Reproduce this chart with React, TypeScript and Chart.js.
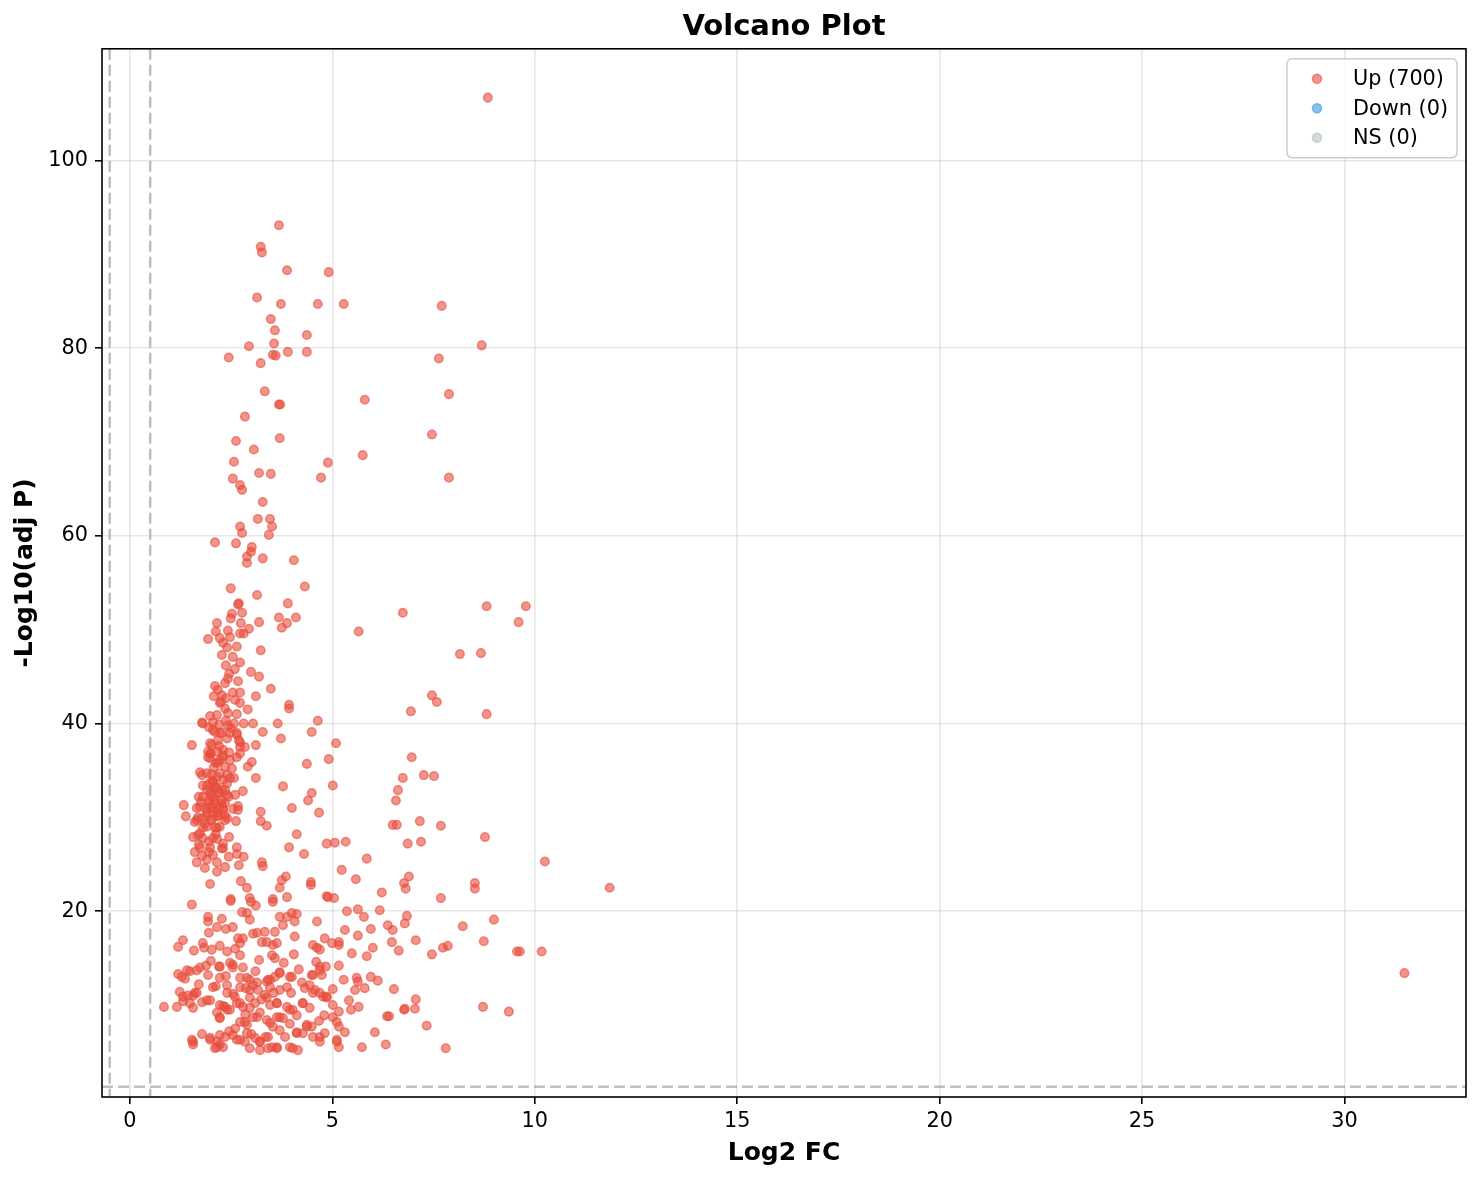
import { useEffect, useRef } from 'react';
import { Chart, registerables } from 'chart.js';

Chart.register(...registerables);

const FONT = "'DejaVu Sans', 'Liberation Sans', sans-serif";

const X_TICKS = [0, 5, 10, 15, 20, 25, 30];
const Y_TICKS = [20, 40, 60, 80, 100];
const X_LIMITS = [-0.69, 33.0];
const Y_LIMITS = [0.2, 111.9];

// thresholds: |log2FC| = 0.5 and adj P = 0.05
const FC_CUT = 0.5;
const P_CUT = 1.3;

const GROUP_LABELS = ['Up (700)', 'Down (0)', 'NS (0)'];
const GROUP_RGB = ['231,76,60', '52,152,219', '149,165,166'];
const GROUP_ALPHA = [0.6, 0.6, 0.4];

// [log2 FC, -log10(adj P)]
const UP_POINTS: [number, number][] = [
  [8.84, 106.7], [3.68, 93.1], [3.23, 90.8], [3.26, 90.2], [3.88, 88.3], [4.91, 88.1],
  [3.14, 85.4], [3.73, 84.7], [4.64, 84.7], [5.28, 84.7], [7.70, 84.5], [3.48, 83.1],
  [3.58, 81.9], [4.37, 81.4], [3.56, 80.5], [8.69, 80.3], [2.94, 80.2], [3.90, 79.6],
  [4.37, 79.6], [3.53, 79.3], [3.60, 79.2], [2.44, 79.0], [7.63, 78.9], [3.23, 78.4],
  [3.33, 75.4], [7.88, 75.1], [5.80, 74.5], [3.68, 74.0], [3.71, 74.0], [2.84, 72.7],
  [7.46, 70.8], [3.70, 70.4], [2.62, 70.1], [3.06, 69.2], [5.75, 68.6], [4.89, 67.8],
  [2.57, 67.9], [3.19, 66.7], [3.48, 66.6], [2.54, 66.1], [4.72, 66.2], [7.88, 66.2],
  [2.72, 65.4], [2.77, 64.9], [3.28, 63.6], [3.16, 61.8], [3.46, 61.8], [3.51, 61.0],
  [2.72, 61.0], [2.77, 60.3], [3.43, 60.1], [2.10, 59.3], [2.62, 59.2], [3.01, 58.8],
  [2.99, 58.3], [2.89, 57.8], [3.28, 57.6], [4.05, 57.4], [2.89, 57.1], [2.49, 54.4],
  [4.32, 54.6], [3.14, 53.7], [2.67, 52.7], [2.69, 52.8], [3.90, 52.8], [2.52, 51.7],
  [2.77, 51.8], [3.68, 51.3], [4.10, 51.3], [6.74, 51.8], [8.81, 52.5], [9.78, 52.5],
  [9.60, 50.8], [2.15, 50.7], [2.49, 51.2], [3.19, 50.8], [3.88, 50.7], [3.75, 50.2],
  [2.74, 50.7], [2.12, 49.8], [2.42, 49.9], [2.94, 50.1], [5.65, 49.8], [1.93, 49.0],
  [2.22, 49.1], [2.47, 49.2], [2.72, 49.6], [2.81, 49.6], [2.64, 48.2], [2.40, 48.1],
  [3.23, 47.8], [8.15, 47.4], [8.67, 47.5], [2.27, 47.3], [2.54, 47.1], [2.72, 46.5],
  [2.37, 46.2], [2.59, 45.8], [2.99, 45.5], [3.19, 45.0], [2.42, 44.8], [2.67, 44.5],
  [2.10, 44.0], [2.35, 44.3], [3.48, 43.7], [2.72, 43.3], [2.54, 43.3], [2.07, 42.9],
  [2.27, 43.0], [2.37, 42.7], [3.11, 42.9], [7.46, 43.0], [7.58, 42.3], [2.22, 42.2],
  [2.72, 42.2], [3.93, 42.0], [3.93, 41.6], [6.94, 41.3], [8.81, 41.0], [2.25, 42.3],
  [2.91, 41.5], [1.98, 40.8], [2.15, 40.9], [2.42, 41.1], [2.64, 41.0], [1.78, 40.1],
  [1.95, 39.6], [2.20, 39.9], [2.37, 40.3], [2.57, 40.0], [2.81, 40.0], [3.04, 40.0],
  [3.65, 40.0], [4.64, 40.3], [2.10, 39.1], [2.27, 39.0], [2.47, 39.0], [2.64, 39.0],
  [3.28, 39.1], [4.49, 39.1], [1.53, 37.7], [1.98, 37.9], [2.17, 38.2], [2.40, 38.4],
  [2.69, 38.2], [3.73, 38.4], [5.09, 37.9], [6.96, 36.4], [1.93, 37.0], [2.30, 37.2],
  [2.72, 37.5], [2.84, 37.5], [3.11, 37.7], [1.98, 36.3], [2.22, 36.1], [2.64, 36.4],
  [2.72, 36.8], [4.91, 36.2], [4.37, 35.7], [3.01, 35.9], [2.91, 35.4], [1.73, 34.8],
  [2.07, 35.3], [2.35, 35.4], [2.40, 34.5], [2.57, 34.2], [3.11, 34.2], [1.78, 34.5],
  [2.15, 34.3], [6.74, 34.2], [7.26, 34.5], [7.51, 34.4], [1.98, 33.7], [1.90, 32.9],
  [2.10, 33.1], [2.35, 32.9], [2.79, 32.8], [3.78, 33.3], [5.01, 33.4], [4.49, 32.6],
  [4.40, 31.8], [6.62, 32.9], [6.57, 31.8], [1.70, 32.2], [2.05, 32.1], [2.44, 32.2],
  [1.33, 31.3], [1.65, 31.0], [1.98, 31.1], [2.22, 31.1], [2.67, 31.2], [2.67, 30.8],
  [3.23, 30.6], [4.00, 31.0], [4.67, 30.5], [1.38, 30.1], [1.68, 30.0], [1.90, 30.2],
  [2.15, 30.5], [2.35, 30.2], [1.60, 29.5], [2.00, 29.7], [2.62, 29.6], [3.23, 29.6],
  [3.38, 29.1], [6.49, 29.2], [6.59, 29.2], [7.16, 29.6], [7.68, 29.1], [1.80, 28.9],
  [2.10, 28.9], [1.73, 28.3], [1.56, 27.9], [2.15, 27.7], [4.12, 28.2], [8.77, 27.9],
  [6.86, 27.2], [4.86, 27.2], [5.06, 27.3], [5.33, 27.4], [7.19, 27.4], [1.70, 27.1],
  [2.27, 26.7], [2.64, 26.8], [3.93, 26.8], [1.60, 26.3], [1.95, 26.3], [2.64, 26.1],
  [4.30, 26.1], [2.81, 25.8], [2.44, 25.8], [5.85, 25.6], [10.25, 25.3], [1.65, 25.2],
  [1.90, 25.5], [2.15, 25.2], [3.26, 25.2], [3.28, 24.8], [2.69, 24.9], [1.85, 24.6],
  [2.15, 24.2], [2.35, 24.7], [5.23, 24.4], [5.58, 23.4], [3.85, 23.7], [3.75, 23.3],
  [6.89, 23.7], [6.77, 23.0], [6.81, 22.4], [1.98, 22.9], [2.74, 23.2], [2.89, 22.5],
  [4.47, 23.1], [4.47, 22.8], [3.70, 22.5], [6.22, 22.0], [4.86, 21.6], [5.04, 21.4],
  [2.49, 21.3], [2.96, 21.4], [3.53, 21.3], [3.88, 21.5], [11.85, 22.5], [8.52, 23.0],
  [8.52, 22.4], [7.68, 21.4],
  [2.05, 33.9], [2.12, 33.2], [2.20, 32.6], [2.00, 32.4], [2.25, 31.8], [2.10, 31.5],
  [1.95, 31.8], [2.30, 30.9], [2.05, 30.6], [2.17, 30.1], [1.88, 30.9], [2.35, 31.5],
  [2.27, 32.9], [2.40, 33.6], [2.02, 34.6], [2.12, 35.8], [2.30, 36.6], [2.20, 37.6],
  [2.45, 36.9], [2.52, 35.2], [2.00, 36.8], [1.80, 33.4], [1.75, 31.6], [1.85, 29.3],
  [2.22, 29.0], [2.40, 29.9], [2.55, 30.9], [2.12, 28.2], [1.95, 27.4], [2.30, 27.2],
  [2.05, 26.0], [1.78, 25.9], [2.45, 27.9], [2.60, 32.4], [2.50, 39.5], [2.35, 41.6],
  [2.17, 43.6], [2.60, 42.5], [2.45, 45.3], [2.30, 48.6],
  [1.80, 40.0], [2.05, 39.3], [2.22, 39.0], [2.02, 37.7], [2.15, 37.0], [1.98, 36.8],
  [2.30, 36.4], [2.17, 35.8], [1.90, 34.7], [2.22, 34.7], [2.47, 34.2], [2.30, 34.0],
  [2.05, 33.8], [1.90, 33.4], [2.15, 33.2], [1.98, 32.7], [2.22, 32.6], [2.40, 32.4],
  [1.80, 32.2], [2.10, 31.8], [1.93, 31.5], [2.27, 31.5], [1.73, 31.1], [2.05, 31.0],
  [2.30, 30.8], [1.90, 30.5], [2.17, 30.2], [1.78, 29.9], [2.02, 29.7], [2.35, 29.7],
  [1.65, 29.7], [1.90, 29.0], [2.15, 28.9], [1.68, 28.1], [1.80, 27.8], [2.05, 27.8],
  [1.73, 26.8], [1.98, 26.8], [2.30, 26.7], [2.05, 40.1], [2.42, 39.8], [2.64, 38.8],
  [2.72, 38.0], [1.93, 36.4], [2.47, 36.1],
  [1.53, 20.7], [2.49, 21.1], [2.99, 21.0], [3.11, 20.6], [3.53, 21.0], [4.89, 21.5],
  [5.36, 20.0], [5.63, 20.2], [5.78, 19.4], [6.17, 20.1], [6.84, 19.5], [1.93, 19.4],
  [1.93, 18.9], [2.27, 19.2], [2.77, 19.9], [2.89, 19.8], [2.96, 19.1], [3.70, 19.4],
  [3.88, 19.4], [4.00, 19.8], [4.12, 19.7], [4.07, 18.9], [4.62, 18.9], [1.95, 17.7],
  [2.15, 18.3], [2.37, 18.1], [2.54, 18.3], [3.14, 17.7], [3.33, 17.8], [3.58, 17.8],
  [3.78, 18.5], [4.07, 17.3], [5.31, 18.0], [5.63, 17.4], [5.95, 18.1], [6.37, 18.5],
  [6.49, 18.0], [6.79, 18.7], [1.19, 16.2], [1.31, 16.9], [1.58, 15.8], [1.80, 16.6],
  [1.83, 16.1], [2.02, 15.9], [2.22, 16.3], [2.40, 15.7], [2.67, 17.1], [2.72, 16.6],
  [2.79, 17.1], [3.04, 17.6], [3.26, 16.7], [3.38, 16.7], [3.53, 16.4], [3.63, 16.6],
  [4.52, 16.4], [4.62, 16.1], [4.69, 15.9], [4.81, 17.1], [4.99, 16.6], [5.16, 16.7],
  [5.16, 16.4], [5.48, 15.5], [5.85, 15.2], [6.00, 16.1], [6.47, 16.7], [6.64, 15.8],
  [7.06, 16.9], [3.51, 15.3], [3.58, 15.0], [3.19, 14.8], [2.72, 15.3], [2.47, 14.5],
  [2.54, 14.0], [2.79, 14.0], [2.20, 14.1], [1.88, 14.2], [1.48, 13.6], [1.65, 13.7],
  [1.19, 13.3], [1.28, 13.0], [1.36, 12.8], [1.93, 13.2], [2.22, 12.9], [2.37, 13.1],
  [2.72, 12.9], [2.89, 12.9], [2.96, 12.7], [3.41, 12.7], [3.58, 13.0], [3.70, 13.5],
  [4.00, 13.0], [4.17, 13.8], [4.52, 13.2], [4.74, 13.2], [4.69, 13.7], [4.84, 14.1],
  [5.16, 14.2], [5.28, 12.7], [5.60, 12.9], [5.63, 12.5], [5.95, 13.0], [6.12, 12.6],
  [1.23, 11.4], [1.43, 11.0], [1.56, 11.0], [1.65, 11.3], [2.05, 11.9], [2.12, 12.0],
  [2.40, 12.1], [2.72, 11.9], [2.86, 11.8], [3.04, 12.1], [3.16, 11.6], [2.96, 11.6],
  [3.38, 12.5], [3.46, 11.9], [3.70, 11.6], [3.88, 11.9], [3.98, 11.3], [4.32, 11.8],
  [4.44, 12.1], [4.57, 11.6], [4.69, 11.3], [5.01, 11.7], [5.56, 11.6], [5.80, 11.8],
  [6.52, 11.7], [0.84, 9.8], [1.16, 9.8], [1.31, 10.4], [1.48, 10.2], [1.56, 9.7],
  [1.78, 10.3], [1.98, 10.5], [2.22, 10.0], [2.35, 9.8], [2.59, 10.9], [2.64, 10.2],
  [2.79, 9.8], [2.96, 9.7], [3.09, 10.2], [3.38, 10.8], [3.46, 10.0], [3.63, 10.2],
  [3.88, 9.8], [4.02, 9.5], [4.27, 10.2], [4.44, 9.7], [4.77, 10.9], [4.86, 10.8],
  [5.01, 10.0], [5.16, 9.3], [5.41, 10.5], [5.46, 9.5], [5.65, 9.8], [6.40, 8.8],
  [6.35, 8.8], [6.77, 9.5], [6.79, 9.6], [7.06, 10.6], [7.04, 9.6], [2.15, 9.2],
  [2.22, 8.6], [2.40, 9.5], [2.72, 8.2], [2.89, 7.9], [3.04, 8.7], [3.21, 9.2],
  [3.38, 8.4], [3.53, 7.7], [3.63, 8.7], [3.78, 8.6], [4.12, 8.9], [4.37, 7.9],
  [4.49, 7.7], [4.67, 8.3], [5.01, 8.7], [5.11, 8.2], [5.16, 7.7], [5.31, 7.1],
  [6.05, 7.1], [1.53, 6.3], [1.56, 5.8], [1.78, 6.9], [1.98, 6.5], [2.15, 6.1],
  [2.22, 5.8], [2.35, 6.6], [2.54, 6.8], [2.72, 6.3], [2.84, 6.1], [3.09, 6.5],
  [3.21, 6.1], [3.51, 5.5], [3.63, 5.5], [3.83, 6.6], [3.95, 5.5], [4.12, 7.1],
  [4.27, 7.0], [4.15, 5.2], [4.52, 6.6], [4.69, 6.1], [4.81, 7.0], [5.11, 6.1],
  [5.16, 5.5], [5.73, 5.5], [6.32, 5.8], [2.10, 5.4], [2.30, 5.5], [2.96, 5.4],
  [3.21, 5.2], [3.41, 5.4],
  [2.45, 7.2], [2.60, 7.5], [3.00, 6.9], [3.35, 6.6], [3.70, 7.3], [3.95, 8.0],
  [2.85, 9.0], [3.25, 10.6], [3.55, 11.3], [2.55, 11.2], [4.25, 12.4], [4.60, 14.6],
  [4.05, 15.4], [3.80, 14.5], [3.10, 13.6], [2.60, 16.0], [2.00, 14.7], [1.70, 12.2],
  [2.30, 9.9], [4.80, 8.9],
  [1.41, 13.7], [1.73, 14.0], [2.22, 14.1], [2.54, 14.3], [3.14, 12.4], [3.46, 12.7],
  [3.70, 13.4], [3.95, 13.0], [4.49, 13.2], [4.69, 14.1], [1.31, 10.9], [1.60, 11.3],
  [1.90, 10.5], [2.40, 11.3], [2.72, 10.2], [2.96, 10.8], [3.33, 11.1], [3.63, 10.2],
  [3.95, 9.5], [4.27, 10.2], [4.52, 11.3], [4.86, 10.9], [2.22, 8.7], [2.47, 9.5],
  [2.84, 8.2], [3.14, 8.7], [3.46, 8.1], [3.70, 8.7], [4.12, 7.0], [4.37, 7.7],
  [4.69, 6.6], [5.11, 6.3], [1.56, 6.1], [1.98, 6.3], [2.15, 5.5], [2.64, 6.3],
  [2.89, 7.0], [3.21, 6.1], [3.63, 5.4], [4.02, 5.4], [2.22, 6.8], [3.41, 6.6],
  [8.22, 18.4], [8.99, 19.1], [7.85, 16.3], [7.73, 16.1], [7.46, 15.4], [8.74, 16.8],
  [9.56, 15.7], [9.63, 15.7], [10.17, 15.7], [7.33, 7.8], [8.72, 9.8], [9.36, 9.3],
  [7.80, 5.4], [31.48, 13.4],
];
const DOWN_POINTS: [number, number][] = [];
const NS_POINTS: [number, number][] = [];

const GROUPS = [UP_POINTS, DOWN_POINTS, NS_POINTS];

const rgba = (rgb: string, a: number) => `rgba(${rgb},${a})`;

// dashed cut-off lines plus the four black spines
const framePlugin = {
  id: 'frame',
  afterDatasetsDraw(chart: any) {
    const { ctx, chartArea: a, scales } = chart;
    ctx.save();
    ctx.beginPath();
    ctx.rect(a.left, a.top, a.right - a.left, a.bottom - a.top);
    ctx.clip();
    ctx.strokeStyle = 'rgba(128,128,128,0.5)';
    ctx.lineWidth = 2.5;
    ctx.setLineDash([11, 5]);
    [-FC_CUT, FC_CUT].forEach((v) => {
      const px = scales.x.getPixelForValue(v);
      ctx.beginPath();
      ctx.moveTo(px, a.top);
      ctx.lineTo(px, a.bottom);
      ctx.stroke();
    });
    const py = scales.y.getPixelForValue(P_CUT);
    ctx.beginPath();
    ctx.moveTo(a.left, py);
    ctx.lineTo(a.right, py);
    ctx.stroke();
    ctx.restore();

    ctx.save();
    ctx.strokeStyle = '#000';
    ctx.lineWidth = 1.6;
    ctx.strokeRect(a.left, a.top, a.right - a.left, a.bottom - a.top);
    ctx.restore();
  },
};

const legendPlugin = {
  id: 'boxLegend',
  afterDraw(chart: any) {
    const { ctx, chartArea: a } = chart;
    const right = a.right - 9;
    const top = a.top + 10;
    const w = 170;
    const h = 99;
    const left = right - w;
    ctx.save();
    ctx.beginPath();
    ctx.roundRect(left, top, w, h, 5);
    ctx.fillStyle = 'rgba(255,255,255,0.8)';
    ctx.fill();
    ctx.strokeStyle = '#cccccc';
    ctx.lineWidth = 1.5;
    ctx.stroke();
    ctx.font = `20.8px ${FONT}`;
    ctx.textBaseline = 'middle';
    ctx.textAlign = 'left';
    chart.data.datasets.forEach((ds: any, i: number) => {
      const cy = top + 20 + i * 29.5;
      ctx.beginPath();
      ctx.arc(left + 30, cy, 4.6, 0, Math.PI * 2);
      ctx.fillStyle = ds.backgroundColor;
      ctx.fill();
      ctx.lineWidth = 1.4;
      ctx.strokeStyle = ds.borderColor;
      ctx.stroke();
      ctx.fillStyle = '#000';
      ctx.fillText(ds.label, left + 66, cy + 1);
    });
    ctx.restore();
  },
};

function VolcanoChart() {
  const canvas = useRef<HTMLCanvasElement | null>(null);

  useEffect(() => {
    if (!canvas.current) return;

    const chart = new Chart(canvas.current, {
      type: 'scatter',
      data: {
        datasets: GROUPS.map((pts, i) => ({
          label: GROUP_LABELS[i],
          data: pts.map(([x, y]) => ({ x, y })),
          backgroundColor: rgba(GROUP_RGB[i], GROUP_ALPHA[i]),
          borderColor: rgba(GROUP_RGB[i], GROUP_ALPHA[i]),
          borderWidth: 1.5,
          pointRadius: 4.3,
          pointHoverRadius: 4.3,
        })),
      },
      options: {
        animation: false,
        responsive: false,
        devicePixelRatio: 1,
        events: [],
        layout: { padding: { left: 0, right: 16, top: 0, bottom: 0 } },
        plugins: {
          legend: { display: false },
          tooltip: { enabled: false },
          title: {
            display: true,
            text: 'Volcano Plot',
            color: '#000',
            fullSize: false,
            font: { family: FONT, size: 29, weight: 'bold' },
            padding: { top: 10, bottom: 4 },
          },
        },
        scales: {
          x: {
            type: 'linear',
            min: X_LIMITS[0],
            max: X_LIMITS[1],
            afterBuildTicks: (scale: any) => {
              scale.ticks = X_TICKS.map((value) => ({ value }));
            },
            afterFit: (scale: any) => {
              scale.height = 83;
            },
            border: { display: false },
            grid: {
              color: 'rgba(176,176,176,0.3)',
              lineWidth: 1.6,
              tickColor: '#000',
              tickLength: 7,
              tickWidth: 1.6,
            },
            ticks: {
              color: '#000',
              padding: 5,
              maxRotation: 0,
              font: { family: FONT, size: 20.8 },
            },
            title: {
              display: true,
              text: 'Log2 FC',
              color: '#000',
              font: { family: FONT, size: 25, weight: 'bold' },
              padding: { top: 12, bottom: 12 },
            },
          },
          y: {
            type: 'linear',
            min: Y_LIMITS[0],
            max: Y_LIMITS[1],
            afterBuildTicks: (scale: any) => {
              scale.ticks = Y_TICKS.map((value) => ({ value }));
            },
            afterFit: (scale: any) => {
              scale.width = 102;
            },
            border: { display: false },
            grid: {
              color: 'rgba(176,176,176,0.3)',
              lineWidth: 1.6,
              tickColor: '#000',
              tickLength: 7,
              tickWidth: 1.6,
            },
            ticks: {
              color: '#000',
              padding: 7,
              font: { family: FONT, size: 20.8 },
            },
            title: {
              display: true,
              text: '-Log10(adj P)',
              color: '#000',
              font: { family: FONT, size: 25, weight: 'bold' },
              padding: { top: 10, bottom: 10 },
            },
          },
        },
      },
      plugins: [framePlugin, legendPlugin],
    });

    return () => chart.destroy();
  }, [canvas]);

  return <canvas ref={canvas} width={1482} height={1180}></canvas>;
}

export default function App() {
  return (
    <div style={{ position: 'absolute', left: 0, top: 0, width: 1482, height: 1180, background: '#fff' }}>
      <VolcanoChart />
    </div>
  );
}
